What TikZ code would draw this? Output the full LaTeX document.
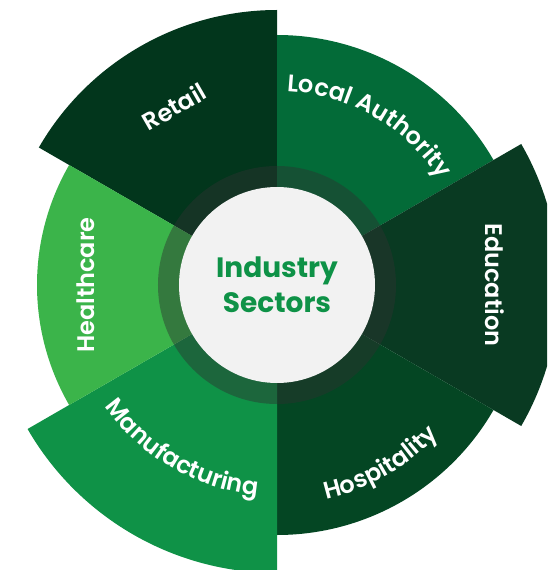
\documentclass[tikz,border=0pt]{standalone}
\usepackage{fontspec}
\setmainfont{Poppins}[BoldFont={Poppins SemiBold}]
\newfontfamily\hubfont{Poppins Bold}
\usepackage{tikz}
\usetikzlibrary{decorations.text}
\definecolor{retailgreen}{HTML}{02361C}
\definecolor{localgreen}{HTML}{036B38}
\definecolor{edugreen}{HTML}{093A22}
\definecolor{hospgreen}{HTML}{044623}
\definecolor{manugreen}{HTML}{0F9247}
\definecolor{healthgreen}{HTML}{3BB44A}
\definecolor{ringshade}{RGB}{45,50,48}
\definecolor{hubgrey}{HTML}{F2F2F2}
\definecolor{titlegreen}{HTML}{0E9247}
\newcommand{\arcfont}{\bfseries\fontsize{24}{24}\selectfont}
\tikzstyle{sectorlabel} = [text=white, inner sep=0pt, font=\arcfont]
\tikzstyle{hub} = [circle, fill=hubgrey, minimum size=196pt, inner sep=0pt, align=center, text=titlegreen, font=\hubfont\fontsize{28}{35}\selectfont]
\tikzstyle{arclabel} = [decorate, decoration={text along path, text color=white, text align=center}]

\begin{document}
\begin{tikzpicture}[x=1pt,y=1pt]
			\useasboundingbox (-277,-285) rectangle (270,285);
			\clip (-277,-285) rectangle (270,285);
			% sectors
			\fill[retailgreen] (0,0) -- (90:275) arc[start angle=90, end angle=150, radius=275pt] -- cycle;
			\fill[localgreen] (0,0) -- (30:250) arc[start angle=30, end angle=90, radius=250pt] -- cycle;
			\fill[edugreen] (0,0) -- (-30:282) arc[start angle=-30, end angle=30, radius=282pt] -- cycle;
			\fill[hospgreen] (0,0) -- (-90:250) arc[start angle=-90, end angle=-30, radius=250pt] -- cycle;
			\fill[manugreen] (0,0) -- (210:288) arc[start angle=210, end angle=270, radius=288pt] -- cycle;
			\fill[healthgreen] (0,0) -- (150:240) arc[start angle=150, end angle=210, radius=240pt] -- cycle;
			% ring and hub
			\fill[ringshade, fill opacity=0.45] (0,0) circle[radius=119pt];
			\node (hub) [hub] at (0,0) {Industry\\Sectors};
			
			\node (retail) [sectorlabel, rotate=30] at (120:206) {Retail};
			\node (healthcare) [sectorlabel, rotate=90] at (180:191) {Healthcare};
			\node (education) [sectorlabel, rotate=-90] at (0:218) {Education};
			\path [arclabel, decoration={text={|\arcfont|Local Authority}}] (110:194) arc[start angle=110, end angle=10, radius=194pt];
			\path [arclabel, decoration={text={|\arcfont|Manufacturing}}] (190:211) arc[start angle=190, end angle=290, radius=211pt];
			\path [arclabel, decoration={text={|\arcfont|Hospitality}}] (250:220) arc[start angle=250, end angle=350, radius=220pt];
			\end{tikzpicture}
\end{document}
